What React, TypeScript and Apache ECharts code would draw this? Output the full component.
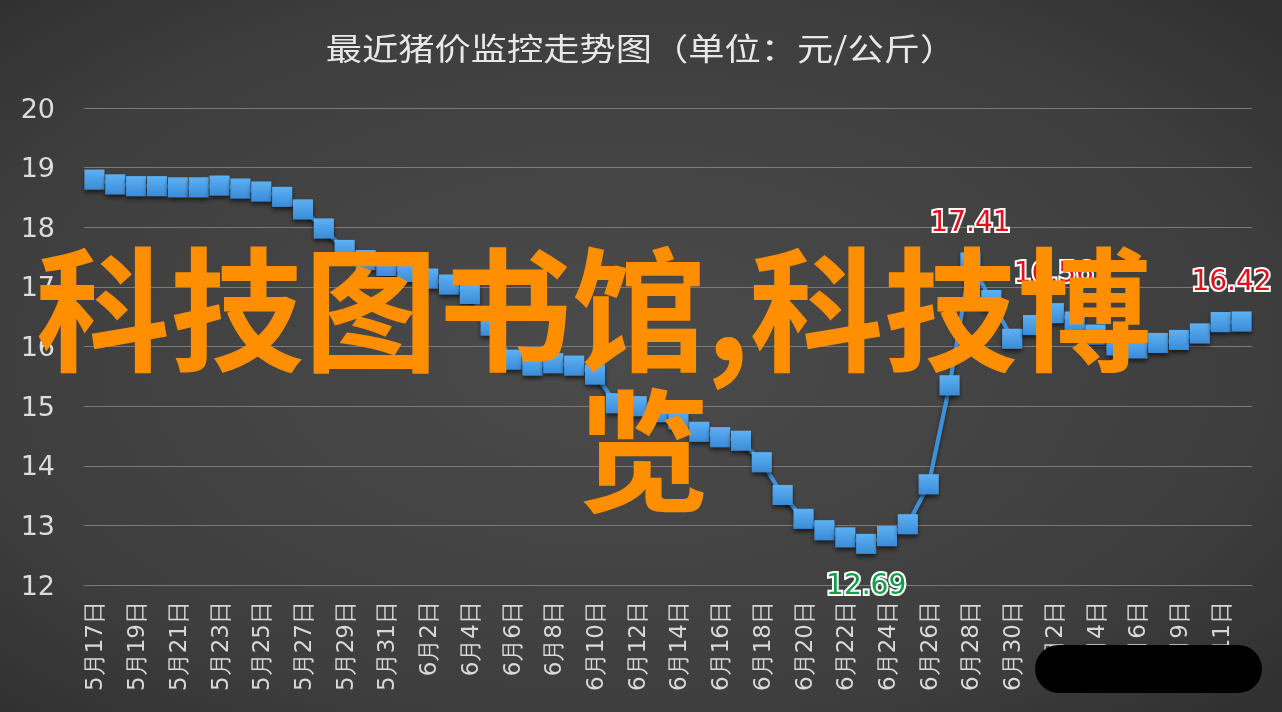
import React, { useEffect, useRef } from "react";
import * as echarts from "echarts";

const TITLE = "最近猪价监控走势图（单位：元/公斤）";
const WATERMARK_LINE1 = "科技图书馆,科技博";
const WATERMARK_LINE2 = "览";

const dates = [
  "5月17日", "5月18日", "5月19日", "5月20日", "5月21日", "5月22日", "5月23日", "5月24日",
  "5月25日", "5月26日", "5月27日", "5月28日", "5月29日", "5月30日", "5月31日",
  "6月1日", "6月2日", "6月3日", "6月4日", "6月5日", "6月6日", "6月7日", "6月8日",
  "6月9日", "6月10日", "6月11日", "6月12日", "6月13日", "6月14日", "6月15日", "6月16日",
  "6月17日", "6月18日", "6月19日", "6月20日", "6月21日", "6月22日", "6月23日", "6月24日",
  "6月25日", "6月26日", "6月27日", "6月28日", "6月29日", "6月30日",
  "7月1日", "7月2日", "7月3日", "7月4日", "7月5日", "7月6日", "7月8日", "7月9日",
  "7月10日", "7月11日", "7月12日",
];

const prices = [
  18.8, 18.72, 18.69, 18.69, 18.67, 18.67, 18.7, 18.65,
  18.6, 18.51, 18.3, 17.98, 17.62, 17.45, 17.35,
  17.25, 17.14, 17.04, 16.88, 16.35, 15.78, 15.68, 15.72,
  15.68, 15.53, 15.05, 15.0, 14.9, 14.78, 14.57, 14.48,
  14.42, 14.06, 13.51, 13.11, 12.92, 12.8, 12.69, 12.82,
  13.02, 13.69, 15.35, 17.41, 16.78, 16.13,
  16.36, 16.56, 16.42, 16.2, 16.02, 15.97, 16.06, 16.11,
  16.22, 16.41, 16.42,
];

// labelled points: [index, position, colour, offsetX]
const labelledPoints: [number, string, string, number][] = [
  [42, "top", "#e3101c", 0],
  [37, "bottom", "#10a04a", 0],
  [46, "top", "#e3101c", 0],
  [55, "top", "#e3101c", -10],
];

const yTicks = { min: 12, max: 20, interval: 1 };

export default function App() {
  const ref = useRef<HTMLDivElement>(null);

  useEffect(() => {
    if (!ref.current) return;
    const chart = echarts.init(ref.current, undefined, { renderer: "svg" });

    const seriesData = prices.map((v, i) => {
      const lp = labelledPoints.find((p) => p[0] === i);
      if (!lp) return v;
      return {
        value: v,
        label: {
          show: true,
          position: lp[1],
          distance: 17,
          offset: [lp[3], 0],
          color: lp[2],
          fontSize: 28,
          fontFamily: "DejaVu Sans",
          textBorderColor: "#ffffff",
          textBorderWidth: 4,
          formatter: (p: any) => Number(p.value).toFixed(2),
        },
      };
    });

    chart.setOption({
      animation: false,
      backgroundColor: {
        type: "radial",
        x: 0.48,
        y: 0.5,
        r: 1.0,
        colorStops: [
          { offset: 0, color: "#4b4b4b" },
          { offset: 0.5, color: "#3e3e3e" },
          { offset: 1, color: "#1c1c1c" },
        ],
      },
      grid: { left: 84, right: 30, top: 108, bottom: 127 },
      xAxis: {
        type: "category",
        data: dates,
        boundaryGap: true,
        axisLine: { show: true, lineStyle: { color: "#7a7a7a", width: 1 } },
        axisTick: { show: false },
        axisLabel: {
          interval: 1,
          rotate: 90,
          margin: 16,
          color: "#d8d8d8",
          fontSize: 23,
          fontFamily: "DejaVu Sans",
        },
      },
      yAxis: {
        type: "value",
        min: yTicks.min,
        max: yTicks.max,
        interval: yTicks.interval,
        axisLine: { show: false },
        axisTick: { show: false },
        axisLabel: {
          margin: 29,
          color: "#dcdcdc",
          fontSize: 27,
          fontFamily: "DejaVu Sans",
        },
        splitLine: { lineStyle: { color: "#7a7a7a", width: 1 } },
      },
      series: [
        {
          type: "line",
          data: seriesData,
          symbol: "rect",
          symbolSize: 20,
          showSymbol: true,
          showAllSymbol: true,
          lineStyle: {
            color: "#3d91dc",
            width: 4,
            shadowColor: "rgba(0,0,0,0.55)",
            shadowBlur: 4,
            shadowOffsetY: 3,
          },
          itemStyle: {
            color: {
              type: "linear",
              x: 0, y: 0, x2: 0, y2: 1,
              colorStops: [
                { offset: 0, color: "#5db1f3" },
                { offset: 1, color: "#3b8bd8" },
              ],
            },
            borderWidth: 0,
            shadowColor: "rgba(0,0,0,0.6)",
            shadowBlur: 4,
            shadowOffsetY: 3,
          },
          z: 3,
        },
      ],
      graphic: [
        {
          type: "text",
          x: 641,
          y: 47,
          scaleX: 1.17,
          z: 50,
          style: {
            text: TITLE,
            fontSize: 31,
            fontFamily: "Noto Sans CJK SC",
            fill: "#e8e8e8",
            align: "center",
            verticalAlign: "middle",
            textAlign: "center",
            textVerticalAlign: "middle",
          },
        },
        {
          type: "text",
          x: 36,
          y: 303,
          z: 100,
          style: {
            text: WATERMARK_LINE1,
            fontSize: 134,
            fontWeight: "bold",
            fontFamily: "Noto Sans CJK SC",
            fill: "#ff8f00",
            align: "left",
            verticalAlign: "middle",
            textAlign: "left",
            textVerticalAlign: "middle",
          },
        },
        {
          type: "text",
          x: 643,
          y: 444,
          z: 100,
          style: {
            text: WATERMARK_LINE2,
            fontSize: 134,
            fontWeight: "bold",
            fontFamily: "Noto Sans CJK SC",
            fill: "#ff8f00",
            align: "center",
            verticalAlign: "middle",
            textAlign: "center",
            textVerticalAlign: "middle",
          },
        },
        {
          type: "rect",
          z: 100,
          shape: { x: 1035, y: 645, width: 227, height: 48, r: 24 },
          style: { fill: "#000000" },
        },
      ],
    });

    return () => chart.dispose();
  }, []);

  return (
    <div
      ref={ref}
      style={{ position: "fixed", left: 0, top: 0, width: 1282, height: 712 }}
    />
  );
}
